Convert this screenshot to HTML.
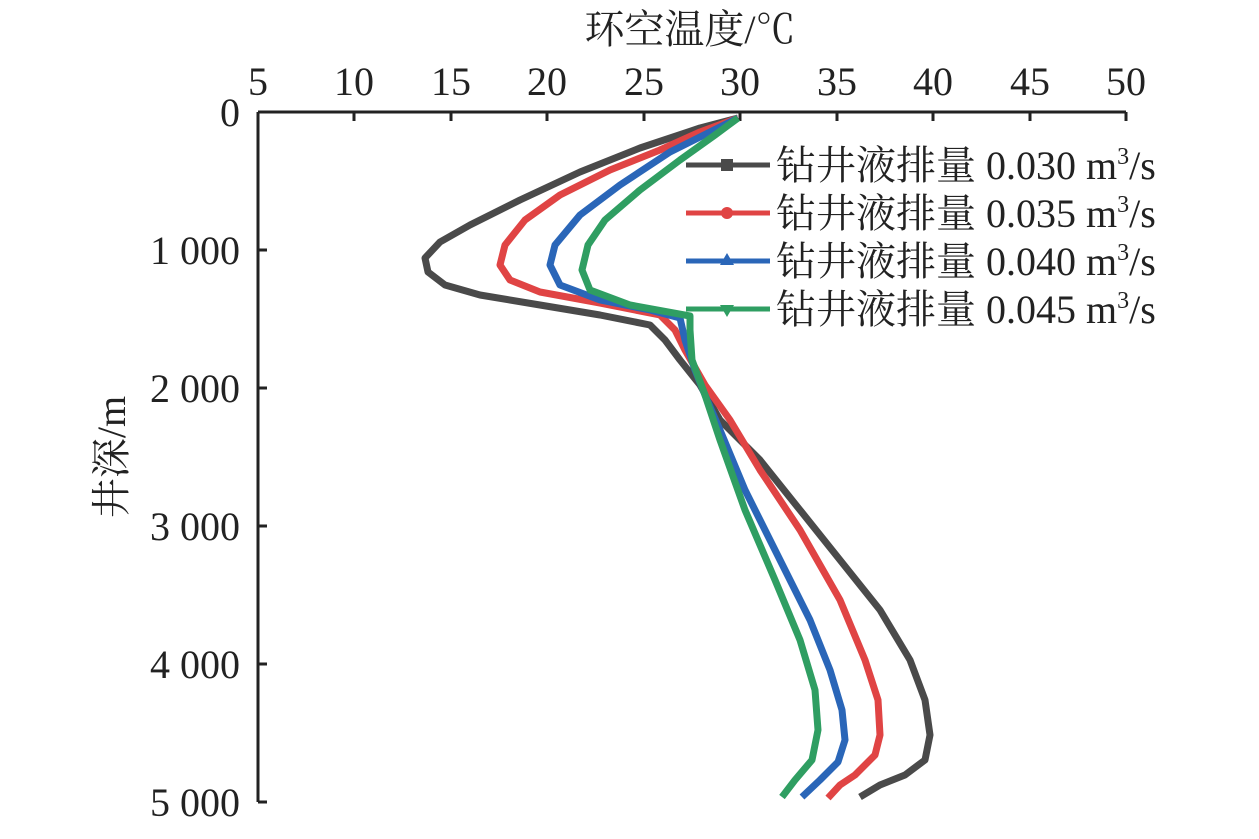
<!DOCTYPE html><html><head><meta charset="utf-8"><style>body{margin:0;background:#fff}</style></head><body>
<svg width="1259" height="834" xmlns="http://www.w3.org/2000/svg" font-family="'Liberation Serif','Noto Serif CJK SC',serif">
<text x="690" y="43" font-size="40" text-anchor="middle" fill="#222">环空温度/℃</text>
<text transform="translate(125,457) rotate(-90)" font-size="40" text-anchor="middle" fill="#222">井深/m</text>
<g font-size="40" text-anchor="middle" fill="#222">
<text x="258" y="95">5</text><text x="354" y="95">10</text><text x="451" y="95">15</text><text x="547" y="95">20</text><text x="644" y="95">25</text><text x="740" y="95">30</text><text x="837" y="95">35</text><text x="933" y="95">40</text><text x="1030" y="95">45</text><text x="1126" y="95">50</text>
</g>
<g font-size="40" text-anchor="end" fill="#222">
<text x="240" y="126">0</text><text x="240" y="264">1 000</text><text x="240" y="402">2 000</text><text x="240" y="540">3 000</text><text x="240" y="678">4 000</text><text x="240" y="816">5 000</text>
</g>
<g stroke="#222" stroke-width="3" fill="none">
<path d="M258 112H1126M258 112V802"/>
<path d="M354 112v9M451 112v9M547 112v9M644 112v9M740 112v9M837 112v9M933 112v9M1030 112v9M1126 112v9"/>
<path d="M258 250h9M258 388h9M258 526h9M258 664h9M258 802h9"/>
</g>
<g fill="none" stroke-width="7" stroke-linejoin="round">
<polyline stroke="#4a4a4a" points="738,118 700,128 640,148 580,172 520,200 470,225 440,242 425,258 428,272 445,285 480,295 540,305 600,315 650,325 665,340 680,360 700,385 720,420 760,460 800,510 840,560 880,610 910,660 925,700 930,735 925,760 905,775 880,785 860,797"/>
<polyline stroke="#e04444" points="738,118 700,132 660,150 610,170 560,195 525,220 505,245 500,265 510,280 540,292 600,303 660,315 675,330 685,350 705,385 730,420 760,470 800,530 840,600 865,660 878,700 880,735 875,755 855,775 840,785 828,798"/>
<polyline stroke="#2a66b8" points="738,118 710,132 670,152 620,185 580,215 555,245 550,265 560,285 600,300 650,310 680,318 685,340 695,370 705,395 720,430 745,490 780,560 810,620 830,670 842,710 845,740 838,762 820,780 802,797"/>
<polyline stroke="#2f9e62" points="738,118 715,135 680,160 640,190 605,220 588,245 582,270 590,290 630,305 690,316 690,330 692,360 705,395 720,440 745,510 775,580 800,640 815,690 818,730 812,760 795,780 782,797"/>
</g>
<g stroke-width="5">
<line x1="686" y1="165" x2="770" y2="165" stroke="#4a4a4a"/><rect x="721" y="159" width="12" height="12" fill="#4a4a4a"/>
<line x1="686" y1="213" x2="770" y2="213" stroke="#e04444"/><circle cx="727" cy="213" r="6" fill="#e04444"/>
<line x1="686" y1="261" x2="770" y2="261" stroke="#2a66b8"/><polygon points="727,253 734,265 720,265" fill="#2a66b8"/>
<line x1="686" y1="309" x2="770" y2="309" stroke="#2f9e62"/><polygon points="727,317 734,305 720,305" fill="#2f9e62"/>
</g>
<g font-size="40" fill="#222">
<text x="776" y="179">钻井液排量 0.030 m<tspan font-size="24" dy="-15">3</tspan><tspan dy="15">/s</tspan></text>
<text x="776" y="227">钻井液排量 0.035 m<tspan font-size="24" dy="-15">3</tspan><tspan dy="15">/s</tspan></text>
<text x="776" y="275">钻井液排量 0.040 m<tspan font-size="24" dy="-15">3</tspan><tspan dy="15">/s</tspan></text>
<text x="776" y="323">钻井液排量 0.045 m<tspan font-size="24" dy="-15">3</tspan><tspan dy="15">/s</tspan></text>
</g>
</svg>
</body></html>
